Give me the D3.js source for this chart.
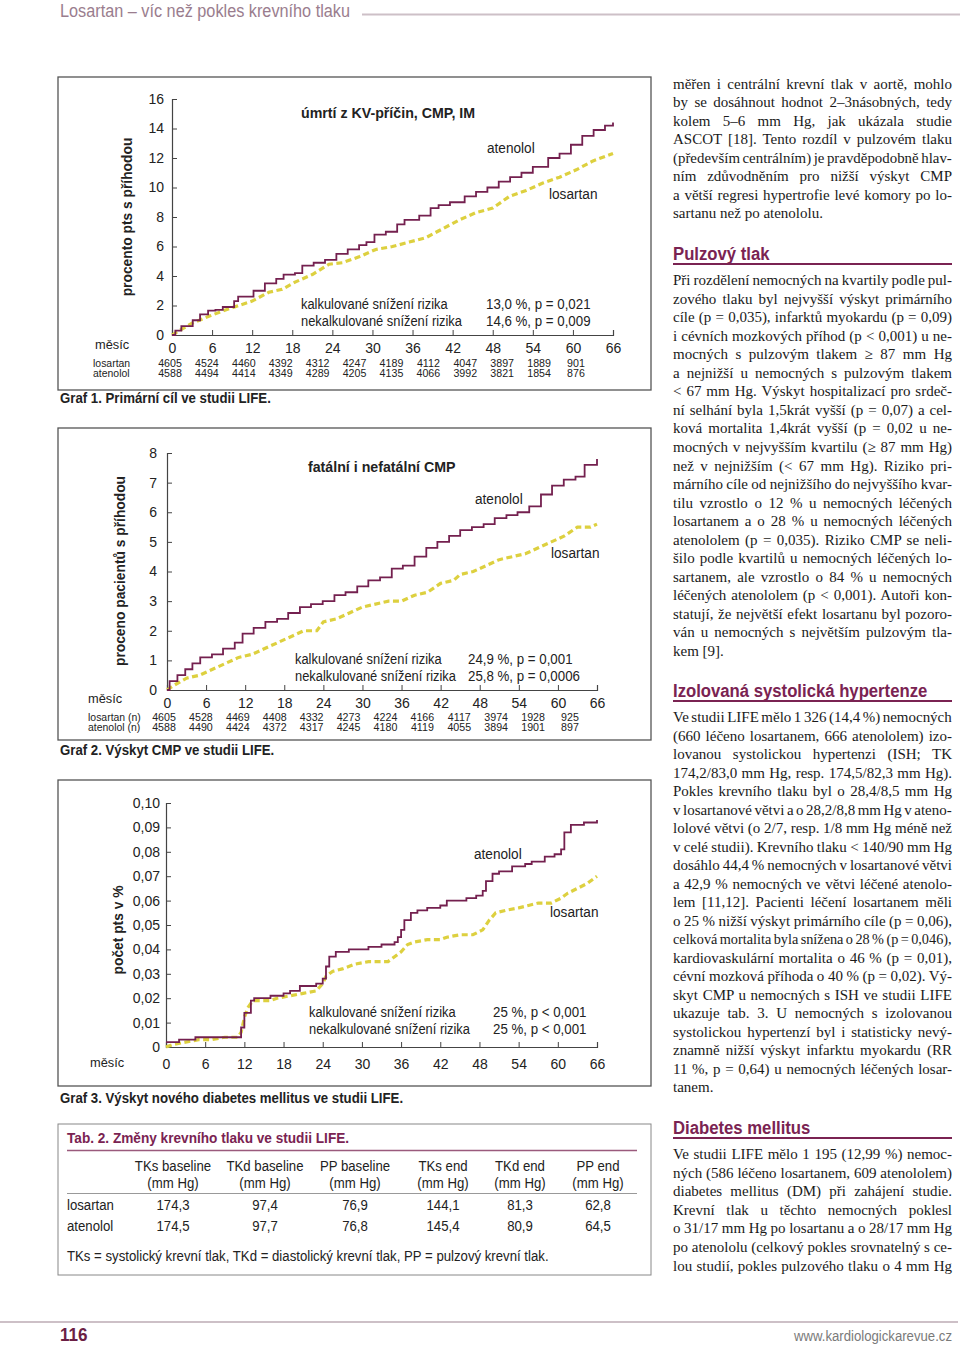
<!DOCTYPE html>
<html><head><meta charset="utf-8">
<script src="https://cdn.jsdelivr.net/npm/d3@7"></script>
<style>body{margin:0;background:#fff}svg{display:block}</style>
</head><body>
<svg id="page" width="960" height="1352"></svg>
<script>
// ---------------- DATA ----------------
const c1AtenololMonths = [0,0.5,1.4,3.1,4.2,5.4,6.5,7.6,9.3,9.9,12.2,13.9,15.6,16.7,18.4,19.5,21.2,22.9,24.6,26.3,28,29.1,30.3,32,33.7,34.8,37,38.7,39.9,41.6,43.8,45.5,47.2,48.9,50.6,52.3,54,56.3,58,59.7,61.4,63.1,64.8,66];
const c1AtenololValues = [0,0.3,0.6,1.0,1.4,1.65,1.7,1.9,2.3,2.6,3.0,3.5,3.8,4.1,4.2,4.7,4.9,5.1,5.5,5.8,6.1,6.3,6.8,7.0,7.5,7.8,8.1,8.6,8.8,9.0,9.4,9.7,10.0,10.4,10.7,11.0,11.4,12.0,12.3,12.9,13.5,13.9,14.2,14.4];
const c1LosartanMonths = [0,1.1,3,5.7,8,10,12,14.5,16.5,18.5,21,23.5,25.5,28,30.5,33,35.5,38,40.5,43,45.5,48,50.5,53,55.5,58,60.5,63,66];
const c1LosartanValues = [0,0.3,0.8,1.3,1.7,2.0,2.3,2.9,3.1,3.6,4.1,4.8,4.9,5.3,5.8,6.0,6.3,6.6,7.2,7.8,8.3,8.6,9.4,9.8,10.3,10.7,11.2,11.8,12.3];
const c1AtRisk = {losartan:[4605,4524,4460,4392,4312,4247,4189,4112,4047,3897,1889,901],
                  atenolol:[4588,4494,4414,4349,4289,4205,4135,4066,3992,3821,1854,876]};

const c2AtenololMonths = [0,0.4,1.6,2.8,3.9,5.1,6.9,8.6,10.4,11.6,13.3,15.1,16.9,18.6,20.4,22.1,23.9,25.7,27.4,29.2,30.9,32.7,34.5,36.2,38,39.8,41.5,43.3,45,46.8,48.6,50.3,52.1,53.8,55.6,57.4,59.1,60.9,62.7,64.1,66];
const c2AtenololValues = [0,0.3,0.5,0.7,0.9,1.1,1.2,1.4,1.6,1.9,2.1,2.3,2.4,2.6,2.8,2.9,3.0,3.2,3.3,3.5,3.7,3.8,4.1,4.2,4.5,4.8,5.0,5.2,5.4,5.5,5.6,5.8,5.9,6.0,6.2,6.6,6.9,7.1,7.2,7.6,7.8];
const c2LosartanMonths = [0,1,3,5,7,9,11,13,15,17,19,21,23,24,26,28,30,32,34,36,38,40,42,44,45,47,49,51,53,55,57,59,61,63,65,66];
const c2LosartanValues = [0,0.15,0.4,0.5,0.7,0.9,1.1,1.2,1.4,1.6,1.8,2.0,2.0,2.3,2.4,2.6,2.8,2.9,3.0,3.0,3.2,3.3,3.6,3.7,3.9,4.0,4.2,4.4,4.5,4.6,4.8,5.0,5.2,5.5,5.5,5.6];
const c2AtRisk = {losartan:[4605,4528,4469,4408,4332,4273,4224,4166,4117,3974,1928,925],
                  atenolol:[4588,4490,4424,4372,4317,4245,4180,4119,4055,3894,1901,897]};

const c3AtenololMonths = [0,2,4.5,11,11.5,12,13,13.5,16,18,19,20.5,23,24,24.5,25,26,28,31,33,35,35.5,36,36.5,37.5,38.5,40,42,43,46,47.5,48.5,49,50,51,53,55,56,58,59.5,60.5,61,62,64,66];
const c3AtenololValues = [0.002,0.003,0.004,0.004,0.008,0.014,0.019,0.020,0.021,0.022,0.023,0.025,0.026,0.028,0.033,0.037,0.039,0.040,0.041,0.042,0.043,0.045,0.048,0.052,0.055,0.056,0.057,0.058,0.060,0.061,0.062,0.064,0.068,0.071,0.072,0.074,0.075,0.076,0.078,0.079,0.081,0.088,0.091,0.092,0.093];
const c3LosartanMonths = [0,1,3,5,7,9,11,11.5,12,12.5,13.3,16,17,19,21,23,24,24.5,25.5,27,29,31,34,35,36,37,38,40,42,43,45,47,48.5,49.5,50.5,52,54,55.5,57,59,60.5,61.5,63,64.5,66];
const c3LosartanValues = [0,0.001,0.002,0.003,0.003,0.004,0.004,0.006,0.012,0.016,0.019,0.019,0.020,0.021,0.022,0.023,0.026,0.029,0.031,0.032,0.034,0.035,0.035,0.037,0.039,0.042,0.043,0.044,0.044,0.045,0.046,0.046,0.048,0.052,0.055,0.056,0.057,0.058,0.059,0.059,0.061,0.063,0.065,0.067,0.070];

const monthTicks = [0,6,12,18,24,30,36,42,48,54,60,66];
const c1YTicks = [0,2,4,6,8,10,12,14,16];
const c2YTicks = [0,1,2,3,4,5,6,7,8];
const c3YTicks = [0,1,2,3,4,5,6,7,8,9,10].map(i=>i/100);

const tableColumns = [["TKs baseline","(mm Hg)"],["TKd baseline","(mm Hg)"],["PP baseline","(mm Hg)"],["TKs end","(mm Hg)"],["TKd end","(mm Hg)"],["PP end","(mm Hg)"]];
const tableRows = ["losartan","atenolol"];
const tableValues = [["174,3","97,4","76,9","144,1","81,3","62,8"],["174,5","97,7","76,8","145,4","80,9","64,5"]];

const para1 = ["měřen i centrální krevní tlak v aortě, mohlo","by se dosáhnout hodnot 2–3násobných, tedy","kolem 5–6 mm Hg, jak ukázala studie","ASCOT [18]. Tento rozdíl v pulzovém tlaku","(především centrálním) je pravděpodobně hlav-","ním zdůvodněním pro nižší výskyt CMP","a větší regresi hypertrofie levé komory po lo-","sartanu než po atenololu."];
const para2 = ["Při rozdělení nemocných na kvartily podle pul-","zového tlaku byl nejvyšší výskyt primárního","cíle (p = 0,035), infarktů myokardu (p = 0,09)","i cévních mozkových příhod (p < 0,001) u ne-","mocných s pulzovým tlakem ≥ 87 mm Hg","a nejnižší u nemocných s pulzovým tlakem","< 67 mm Hg. Výskyt hospitalizací pro srdeč-","ní selhání byla 1,5krát vyšší (p = 0,07) a cel-","ková mortalita 1,4krát vyšší (p = 0,02 u ne-","mocných v nejvyšším kvartilu (≥ 87 mm Hg)","než v nejnižším (< 67 mm Hg). Riziko pri-","márního cíle od nejnižšího do nejvyššího kvar-","tilu vzrostlo o 12 % u nemocných léčených","losartanem a o 28 % u nemocných léčených","atenololem (p = 0,035). Riziko CMP se neli-","šilo podle kvartilů u nemocných léčených lo-","sartanem, ale vzrostlo o 84 % u nemocných","léčených atenololem (p < 0,001). Autoři kon-","statují, že největší efekt losartanu byl pozoro-","ván u nemocných s největším pulzovým tla-","kem [9]."];
const para3 = ["Ve studii LIFE mělo 1 326 (14,4 %) nemocných","(660 léčeno losartanem, 666 atenololem) izo-","lovanou systolickou hypertenzi (ISH; TK","174,2/83,0 mm Hg, resp. 174,5/82,3 mm Hg).","Pokles krevního tlaku byl o 28,4/8,5 mm Hg","v losartanové větvi a o 28,2/8,8 mm Hg v ateno-","lolové větvi (o 2/7, resp. 1/8 mm Hg méně než","v celé studii). Krevního tlaku < 140/90 mm Hg","dosáhlo 44,4 % nemocných v losartanové větvi","a 42,9 % nemocných ve větvi léčené atenolo-","lem [11,12]. Pacienti léčení losartanem měli","o 25 % nižší výskyt primárního cíle (p = 0,06),","celková mortalita byla snížena o 28 % (p = 0,046),","kardiovaskulární mortalita o 46 % (p = 0,01),","cévní mozková příhoda o 40 % (p = 0,02). Vý-","skyt CMP u nemocných s ISH ve studii LIFE","ukazuje tab. 3. U nemocných s izolovanou","systolickou hypertenzí byl i statisticky nevý-","znamně nižší výskyt infarktu myokardu (RR","11 %, p = 0,64) u nemocných léčených losar-","tanem."];
const para4 = ["Ve studii LIFE mělo 1 195 (12,99 %) nemoc-","ných (586 léčeno losartanem, 609 atenololem)","diabetes mellitus (DM) při zahájení studie.","Krevní tlak u těchto nemocných poklesl","o 31/17 mm Hg po losartanu a o 28/17 mm Hg","po atenololu (celkový pokles srovnatelný s ce-","lou studií, pokles pulzového tlaku o 4 mm Hg"];

// ---------------- STYLE ----------------
const SANS = "'Liberation Sans',Arial,sans-serif";
const SERIF = "'Liberation Serif','Times New Roman',serif";
const PURPLE = "#7a2352";
const ATEN = "#74204f";
const LOS = "#ddd03f";
const INK = "#222";
const tableColCenters = [173,265,355,443,520,598];

const svg = d3.select("#page");

// condensed text helper
function T(parent, x, y, s, size, k, opt={}){
  let tr = `translate(${x},${y})`;
  if(opt.rot) tr += " rotate(-90)";
  tr += ` scale(${k},1)`;
  const e = parent.append("text").attr("transform",tr).attr("font-family",opt.family||SANS)
    .attr("font-size",size).attr("fill",opt.fill||INK).text(s);
  if(opt.bold) e.attr("font-weight","bold");
  if(opt.anchor) e.attr("text-anchor",opt.anchor);
  return e;
}

// header / footer
T(svg,60,16.5,"Losartan – víc než pokles krevního tlaku",17.5,0.93,{fill:"#9a7d8e"});
svg.append("line").attr("x1",362).attr("x2",960).attr("y1",14.5).attr("y2",14.5).attr("stroke","#cdc0c7").attr("stroke-width",2);
svg.append("line").attr("x1",0).attr("x2",958).attr("y1",1322).attr("y2",1322).attr("stroke","#cdc0c7").attr("stroke-width",2);
T(svg,60,1341,"116",18,0.95,{bold:true,fill:"#6b1f45"});
T(svg,952,1341,"www.kardiologickarevue.cz",15.5,0.85,{anchor:"end",fill:"#7a7a7a"});

const loc = d3.formatLocale({decimal:",",thousands:" ",grouping:[3],currency:["",""]});

function chart(cfg){
  const g = svg.append("g");
  g.append("rect").attr("x",cfg.box[0]).attr("y",cfg.box[1]).attr("width",cfg.box[2]-cfg.box[0]).attr("height",cfg.box[3]-cfg.box[1])
    .attr("fill","none").attr("stroke","#555").attr("stroke-width",1.3);
  const x = d3.scaleLinear().domain([0,66]).range(cfg.xr);
  const y = d3.scaleLinear().domain(cfg.yd).range(cfg.yr);
  const ya = g.append("g").attr("transform",`translate(${cfg.xr[0]},0)`)
    .call(d3.axisLeft(y).tickValues(cfg.yt).tickSize(-5).tickPadding(cfg.ypad).tickFormat(cfg.yfmt));
  const xa = g.append("g").attr("transform",`translate(0,${cfg.yr[0]})`)
    .call(d3.axisBottom(x).tickValues(monthTicks).tickSize(-5).tickPadding(cfg.xpad).tickFormat(d=>d));
  [ya,xa].forEach(a=>{
    a.select(".domain").attr("stroke","#444").attr("stroke-width",1.2);
    a.selectAll(".tick line").attr("stroke","#444");
    a.selectAll("text").attr("font-family",SANS).attr("font-size",14).attr("fill",INK);
  });
  const lineL = d3.line().x((d,i)=>x(cfg.lm[i])).y(d=>y(d)).curve(d3.curveLinear);
  const lineA = d3.line().x((d,i)=>x(cfg.am[i])).y(d=>y(d)).curve(d3.curveStepAfter);
  g.append("path").attr("d",lineL(cfg.lv)).attr("fill","none").attr("stroke",LOS).attr("stroke-width",3.2).attr("stroke-dasharray","6,3.5");
  g.append("path").attr("d",lineA(cfg.av)).attr("fill","none").attr("stroke",ATEN).attr("stroke-width",1.8);
  if(cfg.title) T(g,cfg.title[1],cfg.title[2],cfg.title[0],14.5,0.98,{bold:true});
  T(g,cfg.atenLab[0],cfg.atenLab[1],"atenolol",14.5,0.94);
  T(g,cfg.losLab[0],cfg.losLab[1],"losartan",14.5,0.94);
  T(g,cfg.stats[0],cfg.stats[1],"kalkulované snížení rizika",14,0.92);
  T(g,cfg.stats[0],cfg.stats[1]+17,"nekalkulované snížení rizika",14,0.92);
  T(g,cfg.stats[2],cfg.stats[1],cfg.statVals[0],14,0.95);
  T(g,cfg.stats[2],cfg.stats[1]+17,cfg.statVals[1],14,0.95);
  T(g,cfg.ytitle[1],cfg.ytitle[2],cfg.ytitle[0],15,0.92,{bold:true,anchor:"middle",rot:true});
  T(g,cfg.mesic[0],cfg.mesic[1],"měsíc",13.5,0.95);
  T(g,cfg.caption[1],cfg.caption[2],cfg.caption[0],14,0.945,{bold:true});
  if(cfg.risk){
    const rx = d3.scaleLinear().domain([0,11]).range(cfg.riskX);
    T(g,cfg.riskLab[0],cfg.riskLab[1],cfg.riskNames[0],11,0.95);
    T(g,cfg.riskLab[0],cfg.riskLab[1]+10,cfg.riskNames[1],11,0.95);
    cfg.risk.losartan.forEach((v,i)=>T(g,rx(i),cfg.riskLab[1],v,11,0.97,{anchor:"middle"}));
    cfg.risk.atenolol.forEach((v,i)=>T(g,rx(i),cfg.riskLab[1]+10,v,11,0.97,{anchor:"middle"}));
  }
}

chart({box:[58,77,651,390],xr:[172,613],yr:[335,99],yd:[0,16],yt:c1YTicks,ypad:8,xpad:8,yfmt:d=>d,
  lm:c1LosartanMonths,lv:c1LosartanValues,am:c1AtenololMonths,av:c1AtenololValues,
  title:["úmrtí z KV-příčin, CMP, IM",301,118],atenLab:[487,153],losLab:[549,199],
  stats:[301,309,486],statVals:["13,0 %, p = 0,021","14,6 %, p = 0,009"],
  ytitle:["procento pts s příhodou",132,217],mesic:[95,349],caption:["Graf 1. Primární cíl ve studii LIFE.",60,403],
  risk:c1AtRisk,riskX:[170,576],riskLab:[93,367],riskNames:["losartan","atenolol"]});

chart({box:[58,428,651,740],xr:[167,597],yr:[690,453],yd:[0,8],yt:c2YTicks,ypad:10,xpad:8,yfmt:d=>d,
  lm:c2LosartanMonths,lv:c2LosartanValues,am:c2AtenololMonths,av:c2AtenololValues,
  title:["fatální i nefatální CMP",308,472],atenLab:[475,504],losLab:[551,558],
  stats:[295,664,468],statVals:["24,9 %, p = 0,001","25,8 %, p = 0,0006"],
  ytitle:["proceno pacientů s příhodou",125,571],mesic:[88,703],caption:["Graf 2. Výskyt CMP ve studii LIFE.",60,755],
  risk:c2AtRisk,riskX:[164,570],riskLab:[88,721],riskNames:["losartan (n)","atenolol (n)"]});

chart({box:[58,780,651,1086],xr:[166,597],yr:[1047,803],yd:[0,0.10],yt:c3YTicks,ypad:6,xpad:12,
  yfmt:d=>d===0?"0":loc.format(".2f")(d),
  lm:c3LosartanMonths,lv:c3LosartanValues,am:c3AtenololMonths,av:c3AtenololValues,
  atenLab:[474,859],losLab:[550,917],
  stats:[309,1017,493],statVals:["25 %, p < 0,001","25 %, p < 0,001"],
  ytitle:["počet pts v %",123,930],mesic:[90,1067],caption:["Graf 3. Výskyt nového diabetes mellitus ve studii LIFE.",60,1103]});

// ---------------- TABLE ----------------
(function(){
  const g = svg.append("g");
  const K = 0.91;
  g.append("rect").attr("x",58).attr("y",1124).attr("width",593).attr("height",151).attr("fill","none").attr("stroke","#888").attr("stroke-width",1);
  T(g,67,1143,"Tab. 2. Změny krevního tlaku ve studii LIFE.",14.5,0.94,{bold:true,fill:PURPLE});
  g.append("line").attr("x1",67).attr("x2",637).attr("y1",1150.5).attr("y2",1150.5).attr("stroke","#9a5a7c").attr("stroke-width",1.3);
  g.append("line").attr("x1",67).attr("x2",637).attr("y1",1193.5).attr("y2",1193.5).attr("stroke","#999").attr("stroke-width",1);
  const ry = d3.scalePoint().domain(tableRows).range([1210,1231]);
  tableColumns.forEach((c,i)=>{
    c.forEach((s,j)=>T(g,tableColCenters[i],1171+17*j,s,14.5,K,{anchor:"middle"}));
  });
  tableRows.forEach((r,ri)=>{
    T(g,67,ry(r),r,14.5,K);
    tableValues[ri].forEach((v,i)=>T(g,tableColCenters[i],ry(r),v,14.5,K,{anchor:"middle"}));
  });
  T(g,67,1261,"TKs = systolický krevní tlak, TKd = diastolický krevní tlak, PP = pulzový krevní tlak.",14.5,K);
})();

// ---------------- RIGHT COLUMN ----------------
const COLX = 673, COLW = 279;
function para(lines, y0, lh, lastJustified){
  lines.forEach((s,i)=>{
    const yy = y0+i*lh;
    const e = svg.append("text").attr("x",0).attr("y",0).attr("transform",`translate(${COLX},${yy})`)
      .attr("font-family",SERIF).attr("font-size",15).attr("fill","#1a1a1a").text(s);
    const last = i===lines.length-1 && !lastJustified;
    if(!last){
      const w = e.node().getComputedTextLength();
      const n = (s.match(/ /g)||[]).length;
      if(n>0){
        const ws = (COLW-w)/n;
        if(ws < -1.2){
          e.style("word-spacing","-1.2px");
          const w2 = w - 1.2*n;
          e.attr("transform",`translate(${COLX},${yy}) scale(${COLW/w2},1)`);
        } else {
          e.style("word-spacing",ws+"px");
        }
      }
    }
  });
}
function heading(s,yc){
  T(svg,COLX,yc+6.5,s,19,0.88,{bold:true,fill:PURPLE});
  svg.append("line").attr("x1",COLX).attr("x2",COLX+COLW).attr("y1",yc+11).attr("y2",yc+11).attr("stroke",PURPLE).attr("stroke-width",2);
}
para(para1,89,18.45,false);
heading("Pulzový tlak",253);
para(para2,285,18.55,false);
heading("Izolovaná systolická hypertenze",690);
para(para3,722,18.5,false);
heading("Diabetes mellitus",1127);
para(para4,1159,18.6,true);
</script>
</body></html>
